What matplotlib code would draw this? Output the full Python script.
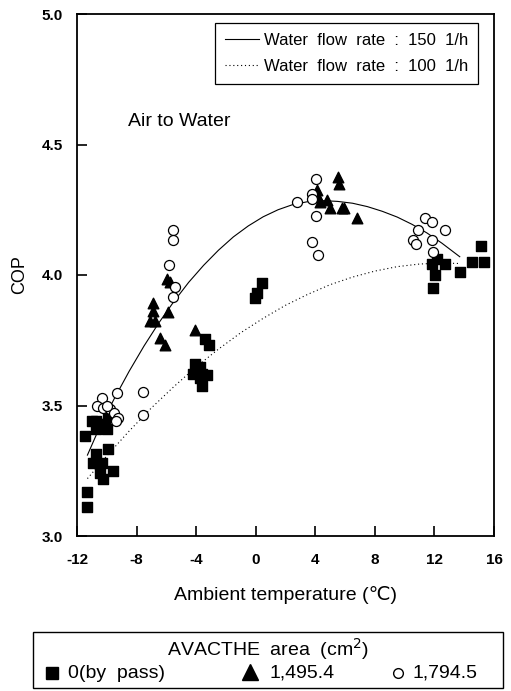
import matplotlib
matplotlib.use("Agg")
import matplotlib.pyplot as plt
from matplotlib.patches import Rectangle

plt.rcParams['font.family'] = ['Liberation Sans', 'DejaVu Sans']

# measured points, AVACTHE area 0 (by pass)
sq_x = [-11.46, -11.35, -11.35, -11.0, -10.7, -10.3, -10.1, -9.95, -10.75, -10.0,
        -9.9, -10.7, -10.95, -10.35, -9.6, -10.45, -10.25,
        -3.41, -3.14, -4.08, -3.74, -4.19, -3.63, -3.30, -3.74, -3.6,
        -0.05, 0.1, 0.4,
        11.81, 12.14, 12.70, 12.03, 11.91, 13.70, 14.55, 15.16, 15.33]
sq_y = [3.385, 3.17, 3.11, 3.44, 3.44, 3.43, 3.43, 3.46, 3.41, 3.41,
        3.335, 3.315, 3.28, 3.28, 3.25, 3.24, 3.22,
        3.756, 3.73, 3.66, 3.648, 3.62, 3.62, 3.616, 3.607, 3.575,
        3.91, 3.93, 3.97,
        4.044, 4.063, 4.044, 4.0, 3.952, 4.012, 4.05, 4.11, 4.05]

# AVACTHE area 1,495.4
tri_x = [-6.88, -6.88, -5.87, -7.10, -6.77, -6.43, -6.09, -5.98, -5.76, -4.08,
         4.09, 4.17, 4.31, 4.76, 4.98, 5.77, 5.9, 6.78, 5.54, 5.6]
tri_y = [3.893, 3.861, 3.859, 3.823, 3.823, 3.76, 3.73, 3.983, 3.974, 3.79,
         4.325, 4.30, 4.28, 4.287, 4.255, 4.255, 4.255, 4.217, 4.376, 4.35]

# AVACTHE area 1,794.5
cir_x = [-9.34, -10.34, -10.68, -10.24, -9.79, -9.52, -9.23, -9.4, -10.0, -7.6, -7.55,
         -5.54, -5.54, -5.81, -5.42, -5.54,
         4.04, 3.75, 3.81, 2.79, 4.02, 3.75, 4.15,
         11.36, 11.87, 12.70, 10.91, 10.57, 10.75, 11.81, 11.91]
cir_y = [3.546, 3.527, 3.497, 3.492, 3.486, 3.47, 3.454, 3.44, 3.50, 3.552, 3.462,
         4.174, 4.136, 4.038, 3.954, 3.914,
         4.366, 4.31, 4.29, 4.279, 4.225, 4.128, 4.076,
         4.217, 4.204, 4.172, 4.172, 4.133, 4.117, 4.133, 4.089]

# trend curves
c150_x = [-11.3, -10.5, -9.5, -8.5, -7.5, -6.5, -5.5, -4.5, -3.5, -2.5, -1.5, -0.5, 0.5,
          1.5, 2.5, 3.5, 4.5, 5.5, 6.5, 7.5, 8.5, 9.5, 10.5, 11.5, 12.5, 13.7]
c150_y = [3.31, 3.414, 3.526, 3.631, 3.728, 3.817, 3.898, 3.972, 4.037, 4.095, 4.146, 4.188, 4.223,
          4.25, 4.27, 4.281, 4.285, 4.282, 4.275, 4.262, 4.244, 4.222, 4.194, 4.161, 4.122, 4.07]
c100_x = [-11.3, -10.0, -8.5, -7.0, -5.5, -4.0, -2.5, -1.0, 0.5, 2.0, 3.5, 5.0, 6.5,
          8.0, 9.5, 11.0, 12.5, 13.7]
c100_y = [3.22, 3.307, 3.402, 3.491, 3.572, 3.648, 3.716, 3.779, 3.834, 3.884, 3.926, 3.963, 3.992,
          4.015, 4.032, 4.042, 4.046, 4.044]

x_ticks = [-12, -8, -4, 0, 4, 8, 12, 16]
y_ticks = [3.0, 3.5, 4.0, 4.5, 5.0]

fig = plt.figure(figsize=(5.11, 6.91), dpi=100)
ax = fig.add_axes([77 / 511, 1 - 536 / 691, 417 / 511, 522 / 691])

l150, = ax.plot(c150_x, c150_y, color='black', lw=0.8, ls='-')
l100, = ax.plot(c100_x, c100_y, color='black', lw=0.8, ls=(0, (1, 2.5)))

ax.scatter(sq_x, sq_y, marker='s', s=46, color='black', zorder=3)
ax.scatter(tri_x, tri_y, marker='^', s=58, color='black', zorder=3)
ax.scatter(cir_x, cir_y, marker='o', s=52, facecolors='white', edgecolors='black',
           linewidths=0.9, zorder=4)

ax.set_xlim(-12, 16)
ax.set_ylim(3.0, 5.0)
ax.set_xticks(x_ticks)
ax.set_yticks(y_ticks)
ax.set_xticklabels([str(t) for t in x_ticks], fontsize=11, fontweight='bold')
ax.set_yticklabels(['%.1f' % t for t in y_ticks], fontsize=11, fontweight='bold')
ax.tick_params(direction='in', length=7, width=1.2)
ax.tick_params(axis='x', pad=12)
ax.tick_params(axis='y', pad=10)
for sp in ax.spines.values():
    sp.set_linewidth(1.3)

ax.set_xlabel('Ambient temperature (℃)', fontsize=14, labelpad=14)
ax.set_ylabel('COP', fontsize=13, labelpad=10)

ax.text(-8.6, 4.59, 'Air to Water', fontsize=14, va='center', ha='left')

leg = ax.legend([l150, l100], ['Water  flow  rate  :  150  1/h', 'Water  flow  rate  :  100  1/h'],
                loc='upper right', bbox_to_anchor=(0.9616, 0.9828), borderaxespad=0,
                fontsize=12, handlelength=2.0, handletextpad=0.3,
                fancybox=False, framealpha=1, edgecolor='black', borderpad=0.6,
                labelspacing=0.65)
leg.get_frame().set_linewidth(0.9)

# bottom key box, laid out in pixel units
ov = fig.add_axes([0, 0, 1, 1])
ov.set_xlim(0, 511)
ov.set_ylim(691, 0)
ov.axis('off')
ov.add_patch(Rectangle((33, 632), 470, 56, fill=False, edgecolor='black', lw=1.0))
ov.text(268, 649, 'AVACTHE  area  (cm$^2$)', fontsize=14, ha='center', va='center')
ov.plot([52], [673], marker='s', color='black', markersize=8)
ov.text(68, 673, '0(by  pass)', fontsize=14, ha='left', va='center')
ov.plot([250], [672], marker='^', color='black', markersize=11)
ov.text(335, 673, '1,495.4', fontsize=14, ha='right', va='center')
ov.plot([398], [673], marker='o', markerfacecolor='white', markeredgecolor='black', markersize=7)
ov.text(478, 673, '1,794.5', fontsize=14, ha='right', va='center')

fig.savefig('out.png', dpi=100)
